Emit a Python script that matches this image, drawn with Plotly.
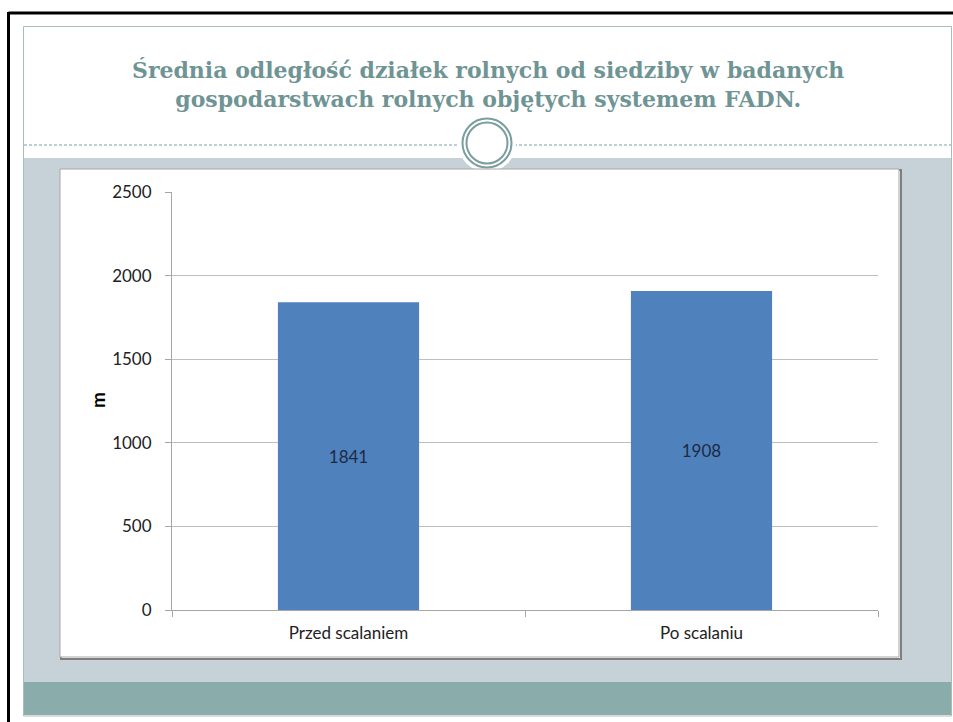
import plotly.graph_objects as go

categories = ["Przed scalaniem", "Po scalaniu"]
values = [1841, 1908]
y_ticks = [0, 500, 1000, 1500, 2000, 2500]
title_lines = ["Średnia odległość działek rolnych od siedziby w badanych",
               "gospodarstwach rolnych objętych systemem FADN."]
y_title = "m"

W, H = 953, 722
L, R, T, B = 172, 878, 192, 610  # plot area in pixels


def px(x):
    return (x - L) / (R - L)


def py(y):
    return (B - y) / (B - T)


fig = go.Figure()
fig.add_trace(go.Bar(
    x=categories, y=values,
    marker=dict(color="#4f81bd", line=dict(width=0)),
    text=[str(v) for v in values], textposition="inside", insidetextanchor="middle",
    textfont=dict(family="Lato, Open Sans, sans-serif", size=17, color="#1c2a45"),
    width=0.4,
))

shapes = []
# black outer frame (top/left)
shapes.append(dict(type="line", xref="paper", yref="paper", x0=px(8.5), x1=px(953), y0=py(13), y1=py(13),
                   line=dict(color="black", width=3), layer="below"))
shapes.append(dict(type="line", xref="paper", yref="paper", x0=px(8.5), x1=px(8.5), y0=py(12), y1=py(722),
                   line=dict(color="black", width=3), layer="below"))
# slide border
shapes.append(dict(type="rect", xref="paper", yref="paper", x0=px(23.5), x1=px(951.5), y0=py(26.5), y1=py(716),
                   line=dict(color="#a8bcbc", width=1), fillcolor="white", layer="below"))
# gray panel
shapes.append(dict(type="rect", xref="paper", yref="paper", x0=px(24), x1=px(951), y0=py(158), y1=py(682),
                   line=dict(width=0), fillcolor="#c6d2d8", layer="below"))
# teal band
shapes.append(dict(type="rect", xref="paper", yref="paper", x0=px(24), x1=px(951), y0=py(682), y1=py(715),
                   line=dict(width=0), fillcolor="#8aacab", layer="below"))
# dashed line
shapes.append(dict(type="line", xref="paper", yref="paper", x0=px(24), x1=px(951), y0=py(145), y1=py(145),
                   line=dict(color="#7d9fa0", width=1, dash="3px,2px"), layer="below"))
# white circle cutout
shapes.append(dict(type="circle", xref="paper", yref="paper", x0=px(487 - 29), x1=px(487 + 29),
                   y0=py(143 - 29), y1=py(143 + 29), line=dict(width=0), fillcolor="white", layer="below"))
shapes.append(dict(type="circle", xref="paper", yref="paper", x0=px(487 - 24.5), x1=px(487 + 24.5),
                   y0=py(143 - 24.5), y1=py(143 + 24.5), line=dict(color="#7a9e9f", width=2), fillcolor="white", layer="below"))
shapes.append(dict(type="circle", xref="paper", yref="paper", x0=px(487 - 20.5), x1=px(487 + 20.5),
                   y0=py(143 - 20.5), y1=py(143 + 20.5), line=dict(color="#7a9e9f", width=2), fillcolor="white", layer="below"))
# chart box shadow + box
shapes.append(dict(type="rect", xref="paper", yref="paper", x0=px(61), x1=px(901), y0=py(170), y1=py(659),
                   line=dict(color="#7f7f7f", width=2), fillcolor="white", layer="below"))
shapes.append(dict(type="rect", xref="paper", yref="paper", x0=px(60), x1=px(899), y0=py(169), y1=py(657),
                   line=dict(color="#a6a6a6", width=1), fillcolor="white", layer="below"))

annotations = [
    dict(text="<b>" + title_lines[0] + "<br>" + title_lines[1] + "</b>", xref="paper", yref="paper",
         x=px(488), y=py(84), xanchor="center", yanchor="middle", showarrow=False, align="center",
         font=dict(family="DejaVu Serif, serif", size=22, color="#6f9494")),
    dict(text="<b>" + y_title + "</b>", xref="paper", yref="paper", x=px(97), y=py(400),
         xanchor="center", yanchor="middle", showarrow=False, textangle=-90,
         font=dict(family="Lato, Open Sans, sans-serif", size=19, color="black")),
]

fig.update_layout(
    width=W, height=H,
    margin=dict(l=L, r=W - R, t=T, b=H - B),
    paper_bgcolor="white", plot_bgcolor="rgba(0,0,0,0)",
    showlegend=False, bargap=0.6,
    shapes=shapes, annotations=annotations,
    font=dict(family="Lato, Open Sans, sans-serif", size=14, color="#222222"),
)
fig.update_xaxes(
    showgrid=False, showline=True, linecolor="#a6a6a6", linewidth=1,
    ticks="outside", tickson="boundaries", ticklen=6, tickcolor="#a6a6a6",
    tickfont=dict(size=17, color="#222222"), ticklabelstandoff=8, zeroline=False,
)
fig.update_yaxes(
    range=[0, 2500], tickvals=y_ticks, showgrid=True, gridcolor="#bfbfbf", gridwidth=1,
    showline=True, linecolor="#a6a6a6", linewidth=1, ticks="outside", ticklen=6, tickcolor="#a6a6a6",
    tickfont=dict(size=17, color="#222222"), ticklabelstandoff=10, zeroline=False,
)

fig.write_html("out.html")
